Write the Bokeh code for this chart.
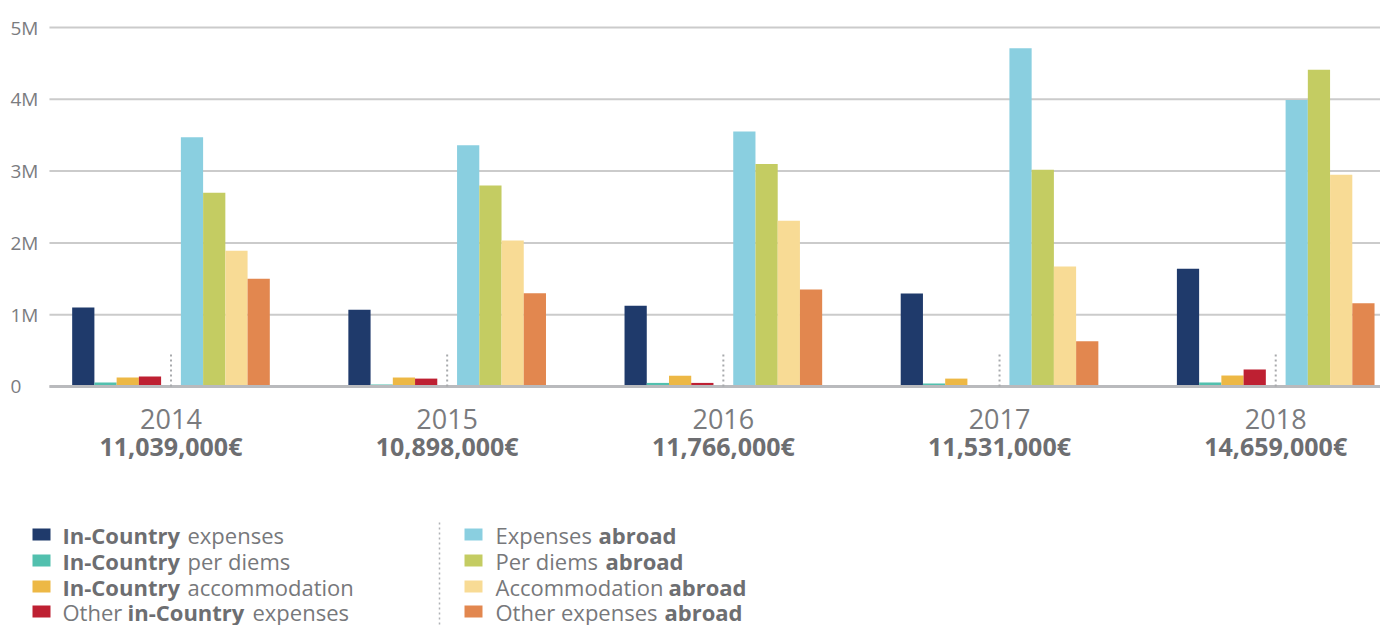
from bokeh.plotting import figure
from bokeh.models import ColumnDataSource, Range1d
from bokeh.core.properties import value, field
from bokeh.embed import file_html
from bokeh.resources import INLINE

# ---------------- data ----------------
years = ["2014", "2015", "2016", "2017", "2018"]
totals = ["11,039,000€", "10,898,000€", "11,766,000€", "11,531,000€", "14,659,000€"]

in_country_expenses = [1.10e6, 1.07e6, 1.125e6, 1.295e6, 1.64e6]
in_country_per_diems = [0.056e6, 0.028e6, 0.05e6, 0.042e6, 0.056e6]
in_country_accommodation = [0.125e6, 0.125e6, 0.15e6, 0.11e6, 0.153e6]
other_in_country = [0.14e6, 0.11e6, 0.05e6, 0.012e6, 0.237e6]
expenses_abroad = [3.47e6, 3.36e6, 3.55e6, 4.71e6, 3.99e6]
per_diems_abroad = [2.70e6, 2.80e6, 3.10e6, 3.02e6, 4.41e6]
accommodation_abroad = [1.89e6, 2.035e6, 2.31e6, 1.67e6, 2.95e6]
other_abroad = [1.50e6, 1.30e6, 1.35e6, 0.63e6, 1.16e6]

y_ticks = [0, 1000000, 2000000, 3000000, 4000000, 5000000]
y_tick_labels = ["0", "1M", "2M", "3M", "4M", "5M"]

in_series = [in_country_expenses, in_country_per_diems, in_country_accommodation, other_in_country]
ab_series = [expenses_abroad, per_diems_abroad, accommodation_abroad, other_abroad]
in_colors = ["#1f3a6b", "#52c0ae", "#edb845", "#be2032"]
ab_colors = ["#8acfe0", "#c4cc62", "#f8db95", "#e2874f"]

# legend texts: (text, bold?) segments per row
legend_left = [
    [("In-Country", True), ("expenses", False)],
    [("In-Country", True), ("per diems", False)],
    [("In-Country", True), ("accommodation", False)],
    [("Other", False), ("in-Country", True), ("expenses", False)],
]
legend_right = [
    [("Expenses", False), ("abroad", True)],
    [("Per diems", False), ("abroad", True)],
    [("Accommodation", False), ("abroad", True)],
    [("Other expenses", False), ("abroad", True)],
]

# ---------------- layout ----------------
FONT = "Open Sans"
TXT = "#77787b"
TXT_B = "#6d6e71"
W, H = 1380, 625

X0, X1 = -0.6173, 4.3794          # group-index range across the canvas
PX_PER_M = 71.8
ZERO_Y = 386
Y_TOP = ZERO_Y / PX_PER_M * 1e6
Y_BOT = -(H - ZERO_Y) / PX_PER_M * 1e6
GRID_LEFT = -0.44

bar_w = 0.0805
gap = 0.0358
centers = list(range(len(years)))

p = figure(width=W, height=H, output_backend="svg", toolbar_location=None,
           x_range=Range1d(X0, X1), y_range=Range1d(Y_BOT, Y_TOP),
           x_axis_type=None, y_axis_type=None,
           min_border_left=0, min_border_right=0, min_border_top=0, min_border_bottom=0)
p.outline_line_color = None
p.extra_x_ranges = {"px": Range1d(0, W)}
p.extra_y_ranges = {"px": Range1d(H, 0)}

# grid lines at ticks
p.segment(x0=[GRID_LEFT] * len(y_ticks), y0=y_ticks, x1=[X1] * len(y_ticks), y1=y_ticks,
          line_color="#cbcbcb", line_width=2)
# y tick labels
p.text(x=[10] * len(y_ticks), y=y_ticks, text=y_tick_labels, x_range_name="px",
       text_align="left", text_baseline="middle", text_font=value(FONT),
       text_font_size="19px", text_color="#7b7c7f")

for k, (vals, col) in enumerate(zip(in_series, in_colors)):
    off = -(gap + bar_w / 2 + (3 - k) * bar_w)
    src = ColumnDataSource(dict(x=[c + off for c in centers], top=vals))
    p.vbar(x="x", top="top", bottom=0, width=bar_w, source=src, fill_color=col, line_color=None)
for k, (vals, col) in enumerate(zip(ab_series, ab_colors)):
    off = gap + bar_w / 2 + k * bar_w
    src = ColumnDataSource(dict(x=[c + off for c in centers], top=vals))
    p.vbar(x="x", top="top", bottom=0, width=bar_w, source=src, fill_color=col, line_color=None)

# baseline
p.segment(x0=[GRID_LEFT], y0=[0], x1=[X1], y1=[0], line_color="#b9babd", line_width=3)

# dotted separators between in-country and abroad groups
p.segment(x0=centers, y0=[0] * 5, x1=centers, y1=[0.47e6] * 5,
          line_color="#a7a9ac", line_width=2, line_dash="2 3")

# category labels
p.text(x=centers, y=[0] * 5, text=years, y_offset=32, text_align="center",
       text_baseline="alphabetic", text_font=value(FONT), text_font_size="27px",
       text_color="#7a7b7e")
p.text(x=centers, y=[0] * 5, text=totals, y_offset=59, text_align="center",
       text_baseline="alphabetic", text_font=value(FONT), text_font_size="25px",
       text_font_style="bold", text_color=TXT_B)

# ---------------- legend (pixel coordinates) ----------------
row_y = [534, 560, 586, 611]
sq_x = [41, 473]
seg_x_left = [[62, 187], [62, 187], [62, 187], [62, 127, 252]]
seg_x_right = [[495, 598], [495, 605], [495, 668], [495, 664]]

sq = dict(x=[], y=[], c=[])
tx = dict(x=[], y=[], t=[], s=[], c=[])
for col_i, (rows, xs, cols) in enumerate([(legend_left, seg_x_left, in_colors),
                                           (legend_right, seg_x_right, ab_colors)]):
    for r, segs in enumerate(rows):
        sq["x"].append(sq_x[col_i])
        sq["y"].append(row_y[r])
        sq["c"].append(cols[r])
        for (t, b), xx in zip(segs, xs[r]):
            tx["x"].append(xx)
            tx["y"].append(row_y[r])
            tx["t"].append(t)
            tx["s"].append("bold" if b else "normal")
            tx["c"].append(TXT_B if b else TXT)

p.rect(x="x", y="y", width=18, height=12, fill_color="c", line_color=None,
       source=ColumnDataSource(sq), x_range_name="px", y_range_name="px")
p.text(x="x", y="y", text="t", text_font_style=field("s"), text_color="c",
       text_font=value(FONT), text_font_size="22px", text_baseline="alphabetic",
       source=ColumnDataSource(tx), x_range_name="px", y_range_name="px")
p.segment(x0=[439], y0=[522], x1=[439], y1=[H], line_color="#b0b2b5",
          line_width=1.5, line_dash="2 3", x_range_name="px", y_range_name="px")

open("out.html", "w").write(file_html(p, INLINE))
